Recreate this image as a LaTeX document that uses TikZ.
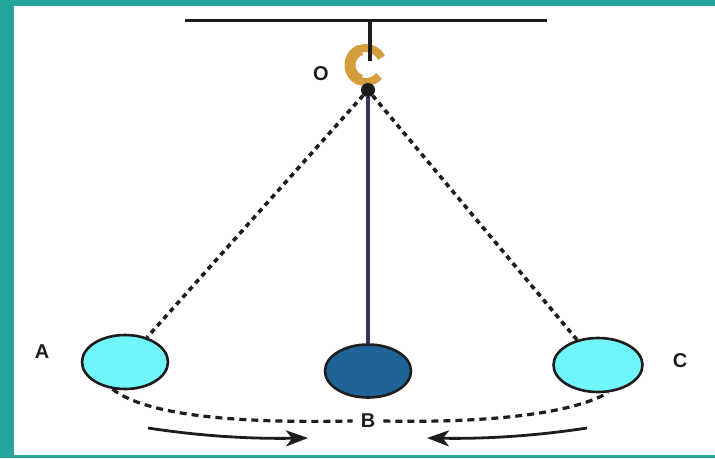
\documentclass[tikz,border=0pt]{standalone}
\usepackage{fontspec}
\setmainfont{Liberation Sans}
\usetikzlibrary{shapes.geometric,arrows.meta}
\definecolor{frameteal}{RGB}{38,166,154}
\definecolor{hookgold}{RGB}{212,158,62}
\definecolor{rodnavy}{RGB}{52,54,92}
\definecolor{bobcyan}{RGB}{112,246,250}
\definecolor{bobblue}{RGB}{31,100,150}
\definecolor{inkdark}{RGB}{30,28,28}
\begin{document}
\begin{tikzpicture}[x=1pt,y=-1pt,
  bob/.style={ellipse,draw=inkdark,line width=2.6pt,inner sep=0pt},
  lbl/.style={font=\fontsize{20}{20}\selectfont\bfseries,text=inkdark,inner sep=0pt},
  string/.style={draw=inkdark,line width=3.6pt,dash pattern=on 5pt off 4.5pt},
  pathline/.style={draw=inkdark,line width=3.2pt,dash pattern=on 7pt off 5pt},
  swing/.style={draw=inkdark,line width=2.8pt,-{Stealth[length=22pt,width=16pt,inset=6pt]}}]
  % canvas and teal frame
  \useasboundingbox (0,0) rectangle (715,458);
  \fill[white] (0,0) rectangle (715,458);
  \fill[frameteal] (0,0) rectangle (715,6);
  \fill[frameteal] (0,0) rectangle (14,458);
  \fill[frameteal] (0,455) rectangle (715,458);

  % ceiling and hook
  \draw[inkdark,line width=3pt] (185,20) -- (547,20);
  \draw[hookgold,line width=8pt] (366,65) ++(40:17) arc[start angle=40,end angle=335,radius=17];
  \draw[hookgold,line width=11pt] (366,65) ++(110:16) arc[start angle=110,end angle=250,radius=16];
  \draw[inkdark,line width=3.5pt] (370,20) -- (370,61);

  % pivot
  \node[circle,fill=inkdark,minimum size=14pt,inner sep=0pt] (pivot) at (368,90) {};
  \node[lbl] (labO) at (321,74) {O};

  % bobs
  \node[bob,fill=bobcyan,minimum width=86pt,minimum height=54pt] (bobA) at (125,362) {};
  \node[bob,fill=bobblue,minimum width=86pt,minimum height=53pt] (bobB) at (368,371) {};
  \node[bob,fill=bobcyan,minimum width=89pt,minimum height=54pt] (bobC) at (598,365) {};

  % strings
  \draw[string] (pivot) -- (bobA);
  \draw[string] (pivot) -- (bobC);
  \draw[rodnavy,line width=4pt] (pivot) -- (bobB);

  % labels
  \node[lbl] (labA) at (42,352) {A};
  \node[lbl] (labB) at (368,421) {B};
  \node[lbl] (labC) at (680,361) {C};

  % swing path
  \draw[pathline] (bobA.245) .. controls (150,418) and (250,423) .. ([xshift=-8pt]labB.west);
  \draw[pathline] ([xshift=8pt]labB.east) .. controls (480,423) and (570,415) .. (bobC.290);

  % direction arrows
  \coordinate (arrLs) at (148,428);
  \coordinate (arrLe) at (308,438);
  \coordinate (arrRs) at (587,428);
  \coordinate (arrRe) at (427,438);
  \draw[swing] (arrLs) .. controls (200,436) and (250,439) .. (arrLe);
  \draw[swing] (arrRs) .. controls (535,436) and (485,439) .. (arrRe);
\end{tikzpicture}
\end{document}
